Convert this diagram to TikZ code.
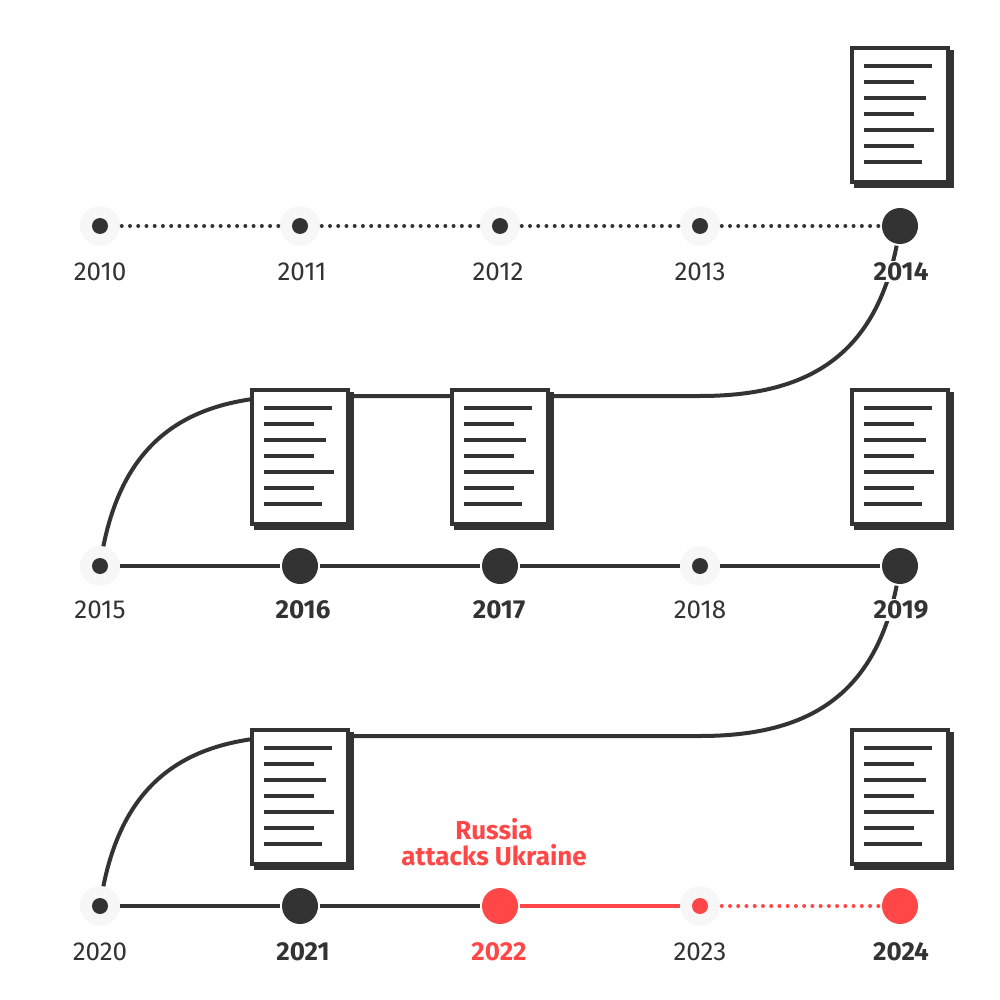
\documentclass[tikz,border=0pt]{standalone}
\usepackage{fontspec}
\setmainfont{Fira Sans}
\usetikzlibrary{backgrounds}
\definecolor{ink}{HTML}{333333}
\definecolor{alert}{HTML}{FF4747}
\definecolor{halo}{HTML}{F7F7F7}
\tikzset{
	yearnode/.style={shape=circle,minimum size=40pt,inner sep=0pt,outer sep=0pt},
	yearlabel/.style={anchor=base,fill=white,inner sep=1.5pt,font=\fontsize{26}{26}\selectfont},
	solidline/.style={line width=4pt},
	dotline/.style={line width=4pt,line cap=round,dash pattern=on 0pt off 8.24pt,dash phase=6.5pt},
	docbox/.style={shape=rectangle,line width=4pt,minimum width=96pt,minimum height=134pt,inner sep=0pt},
	docline/.style={line width=4pt,ink}
}
\newcommand{\drawsmall}[4]{
	\draw #1 node (y#2) [yearnode,fill=halo] {};
	\fill [#4] (y#2) circle [radius=8];
	\draw #3 node (l#2) [yearlabel,text=ink] {#2};
}
\newcommand{\drawlarge}[5]{
	\draw #1 node (y#2) [yearnode,fill=white] {};
	\fill [#4] (y#2) circle [radius=18];
	\draw #3 node (l#2) [yearlabel,text=#5] {\bfseries #2};
}
\newcommand{\drawdoc}[2]{
	\draw #1 ++(4,4) node (s#2) [docbox,draw=ink,fill=ink] {};
	\draw #1 node (d#2) [docbox,draw=ink,fill=white] {};
	\foreach \n/\w in {0/68,1/50,2/62,3/50,4/70,5/50,6/58} {
		\draw [docline] (d#2) ++(-36,-49+16*\n) -- ++(\w,0);
	}
}

\begin{document}
\begin{tikzpicture}[x=1pt,y=-1pt]
\useasboundingbox (0,0) rectangle (1000,1000);
% first row
\drawsmall{(100,226)}{2010}{(100,280.5)}{ink}
\drawsmall{(300,226)}{2011}{(302,280.5)}{ink}
\drawsmall{(500,226)}{2012}{(498,280.5)}{ink}
\drawsmall{(700,226)}{2013}{(700,280.5)}{ink}
\drawlarge{(900,226)}{2014}{(901,280.5)}{ink}{ink}
% second row
\drawsmall{(100,566)}{2015}{(100,618.5)}{ink}
\drawlarge{(300,566)}{2016}{(303,618.5)}{ink}{ink}
\drawlarge{(500,566)}{2017}{(499,618.5)}{ink}{ink}
\drawsmall{(700,566)}{2018}{(700,618.5)}{ink}
\drawlarge{(900,566)}{2019}{(901,618.5)}{ink}{ink}
% third row
\drawsmall{(100,906)}{2020}{(100,960.5)}{ink}
\drawlarge{(300,906)}{2021}{(303,960.5)}{ink}{ink}
\drawlarge{(500,906)}{2022}{(499,960.5)}{alert}{alert}
\drawsmall{(700,906)}{2023}{(700,960.5)}{alert}
\drawlarge{(900,906)}{2024}{(901,960.5)}{alert}{ink}
\node (note) [align=center,text=alert,font=\fontsize{26}{26}\selectfont\bfseries] at (494,842) {Russia\\attacks Ukraine};
% documents
\drawdoc{(900,115)}{2014}
\drawdoc{(300,457)}{2016}
\drawdoc{(500,457)}{2017}
\drawdoc{(900,457)}{2019}
\drawdoc{(300,797)}{2021}
\drawdoc{(900,797)}{2024}
% connectors
\foreach \a/\b in {2010/2011,2011/2012,2012/2013,2013/2014} {
	\draw [dotline,ink] (y\a) -- (y\b);
}
\foreach \a/\b in {2015/2016,2016/2017,2017/2018,2018/2019,2020/2021,2021/2022} {
	\draw [solidline,ink] (y\a) -- (y\b);
}
\draw [solidline,alert] (y2022) -- (y2023);
\draw [dotline,alert] (y2023) -- (y2024);
\coordinate (r1) at (700,396);
\coordinate (r2) at (300,396);
\coordinate (r3) at (700,736);
\coordinate (r4) at (300,736);
\begin{pgfonlayer}{background}
\draw [solidline,ink] (y2014.center) .. controls (882,352) and (813,396) .. (r1) -- (r2) .. controls (187,396) and (118,440) .. (y2015.center);
\draw [solidline,ink] (y2019.center) .. controls (882,692) and (813,736) .. (r3) -- (r4) .. controls (187,736) and (118,780) .. (y2020.center);
\end{pgfonlayer}
\end{tikzpicture}
\end{document}
